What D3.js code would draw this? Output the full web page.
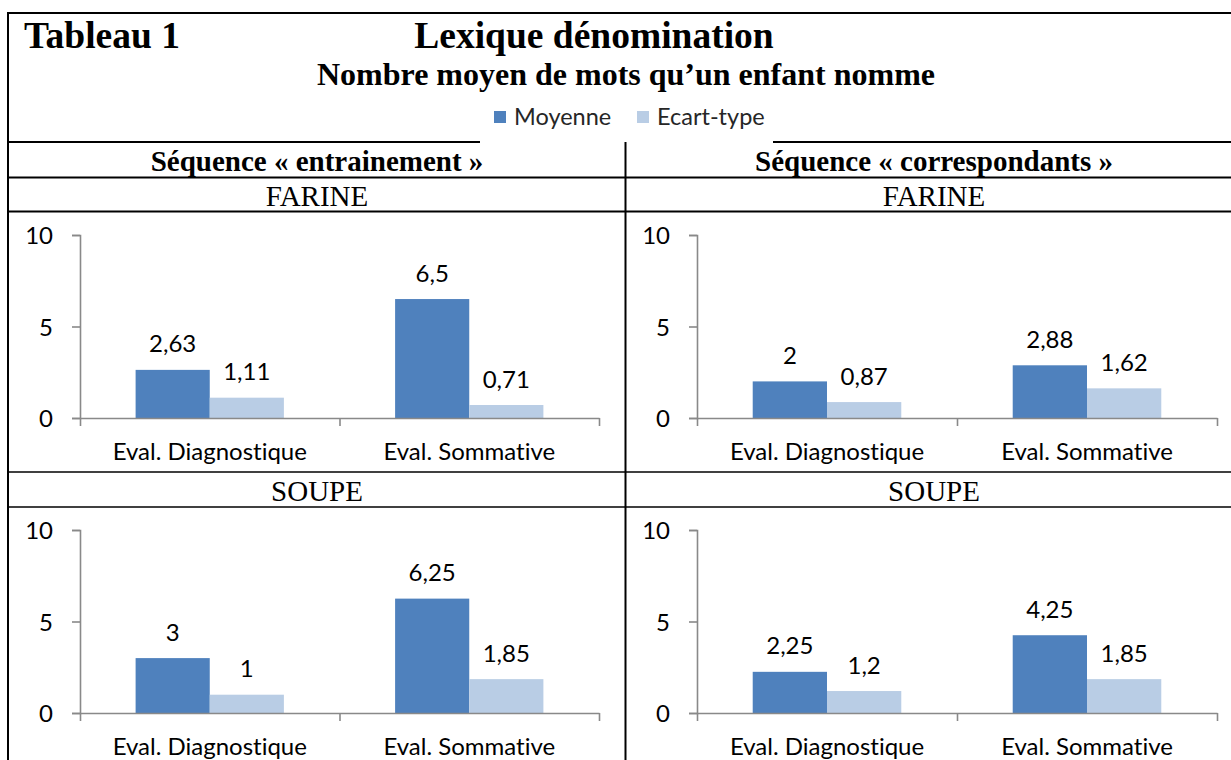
<!DOCTYPE html>
<html>
<head>
<meta charset="utf-8">
<script src="https://cdn.jsdelivr.net/npm/d3@7"></script>
<style>
  body { margin: 0; background: #fff; }
  svg { display: block; }
  .serif { font-family: "Liberation Serif", "Times New Roman", serif; fill: #000; }
  .sans { font-family: Lato, "Open Sans", sans-serif; fill: #000; font-variant-ligatures: none; }
  .axis path, .axis line { stroke: #898989; stroke-width: 1.6; }
</style>
</head>
<body>
<div id="chart"></div>
<script>
// data
var categories = ["Eval. Diagnostique", "Eval. Sommative"];
var seriesNames = ["Moyenne", "Ecart-type"];
var seriesColors = ["#4f81bd", "#b9cde5"];
var yTicks = [0, 5, 10];

var entrainementFarineMoy = [2.63, 6.5];
var entrainementFarineEcart = [1.11, 0.71];
var correspondantsFarineMoy = [2, 2.88];
var correspondantsFarineEcart = [0.87, 1.62];
var entrainementSoupeMoy = [3, 6.25];
var entrainementSoupeEcart = [1, 1.85];
var correspondantsSoupeMoy = [2.25, 4.25];
var correspondantsSoupeEcart = [1.2, 1.85];

var svgWidth = 1231;
var svgHeight = 760;

var svg = d3.select("#chart")
  .append("svg")
  .attr("width", svgWidth)
  .attr("height", svgHeight);

// table frame
var grid = svg.append("g").attr("stroke", "#000").attr("fill", "none");
grid.append("line").attr("x1", 7).attr("x2", svgWidth).attr("y1", 13).attr("y2", 13).attr("stroke-width", 2.2);
grid.append("line").attr("x1", 8).attr("x2", 8).attr("y1", 12).attr("y2", svgHeight).attr("stroke-width", 2);
grid.append("line").attr("x1", 8).attr("x2", 480).attr("y1", 142).attr("y2", 142).attr("stroke-width", 2);
grid.append("line").attr("x1", 773).attr("x2", svgWidth).attr("y1", 142).attr("y2", 142).attr("stroke-width", 2);
grid.append("line").attr("x1", 625.5).attr("x2", 625.5).attr("y1", 142).attr("y2", svgHeight).attr("stroke-width", 2);
grid.append("line").attr("x1", 8).attr("x2", svgWidth).attr("y1", 177.5).attr("y2", 177.5).attr("stroke-width", 2);
grid.append("line").attr("x1", 8).attr("x2", svgWidth).attr("y1", 211.5).attr("y2", 211.5).attr("stroke-width", 2);
grid.append("line").attr("x1", 8).attr("x2", svgWidth).attr("y1", 472).attr("y2", 472).attr("stroke-width", 1.6);
grid.append("line").attr("x1", 8).attr("x2", svgWidth).attr("y1", 507).attr("y2", 507).attr("stroke-width", 1.6);

// titles
svg.append("text").attr("class", "serif")
  .attr("x", 24).attr("y", 48)
  .style("font-size", "37.5px").style("font-weight", "bold")
  .text("Tableau 1");

svg.append("text").attr("class", "serif")
  .attr("x", 594).attr("y", 48)
  .attr("text-anchor", "middle")
  .style("font-size", "37.5px").style("font-weight", "bold")
  .text("Lexique dénomination");

svg.append("text").attr("class", "serif")
  .attr("x", 626).attr("y", 85)
  .attr("text-anchor", "middle")
  .style("font-size", "32px").style("font-weight", "bold")
  .text("Nombre moyen de mots qu’un enfant nomme");

// legend
var legendX = [494, 637];
var legend = svg.selectAll(".legend")
  .data(seriesNames)
  .enter()
  .append("g")
  .attr("class", "legend")
  .attr("transform", (d, i) => `translate(${legendX[i]}, 111)`);

legend.append("rect")
  .attr("width", 12).attr("height", 12)
  .attr("fill", (d, i) => seriesColors[i]);

legend.append("text").attr("class", "sans")
  .attr("x", 20).attr("y", 14)
  .style("font-size", "23.5px")
  .style("fill", "#262626")
  .text(d => d);

// column and row headers
var colCenters = [317, 934];
var colTitles = ["Séquence « entrainement »", "Séquence « correspondants »"];
svg.selectAll(".colTitle")
  .data(colTitles)
  .enter()
  .append("text").attr("class", "serif colTitle")
  .attr("x", (d, i) => colCenters[i]).attr("y", 171)
  .attr("text-anchor", "middle")
  .style("font-size", "29px").style("font-weight", "bold")
  .text(d => d);

var rowTitles = [{ t: "FARINE", y: 206 }, { t: "SOUPE", y: 501 }];
rowTitles.forEach(function(r) {
  colCenters.forEach(function(cx) {
    svg.append("text").attr("class", "serif")
      .attr("x", cx).attr("y", r.y)
      .attr("text-anchor", "middle")
      .style("font-size", "29px")
      .text(r.t);
  });
});

// one small grouped bar chart per cell
var fmt = v => String(v).replace(".", ",");

function drawPanel(left, right, bottom, top, moy, ecart) {
  var g = svg.append("g");

  var yScale = d3.scaleLinear().domain([0, 10]).range([bottom, top]);
  var xBand = d3.scaleBand().domain(categories).range([left, right]).paddingInner(0).paddingOuter(0);
  var xInner = d3.scaleBand().domain(seriesNames).range([0, xBand.bandwidth()]).paddingInner(0).paddingOuter(0.75);
  var xEdges = d3.scaleLinear().domain([0, categories.length]).range([left, right]);

  var rows = categories.map((c, i) => ({ cat: c, vals: [moy[i], ecart[i]] }));

  var groups = g.selectAll(".grp")
    .data(rows)
    .enter()
    .append("g")
    .attr("transform", d => `translate(${xBand(d.cat)}, 0)`);

  groups.selectAll("rect")
    .data(d => d.vals.map((v, i) => ({ s: seriesNames[i], v: v, i: i })))
    .enter()
    .append("rect")
    .attr("x", d => xInner(d.s))
    .attr("width", xInner.bandwidth())
    .attr("y", d => yScale(d.v))
    .attr("height", d => bottom - yScale(d.v))
    .attr("fill", d => seriesColors[d.i]);

  groups.selectAll(".val")
    .data(d => d.vals.map((v, i) => ({ s: seriesNames[i], v: v })))
    .enter()
    .append("text").attr("class", "sans val")
    .attr("x", d => xInner(d.s) + xInner.bandwidth() / 2)
    .attr("y", d => yScale(d.v) - 17.5)
    .attr("text-anchor", "middle")
    .style("font-size", "24px")
    .text(d => fmt(d.v));

  // y axis
  var yAxis = d3.axisLeft(yScale).tickValues(yTicks).tickSize(8).tickPadding(19);
  var yG = g.append("g").attr("class", "axis")
    .attr("transform", `translate(${left}, 0)`)
    .call(yAxis);
  yG.selectAll("text").attr("class", "sans").style("font-size", "24px").attr("dy", "0.36em");

  // x axis line with boundary ticks
  var xAxis = d3.axisBottom(xEdges).tickValues(d3.range(categories.length + 1)).tickSize(8).tickSizeOuter(0).tickFormat("");
  g.append("g").attr("class", "axis")
    .attr("transform", `translate(0, ${bottom})`)
    .call(xAxis);

  // category labels
  var xLabels = d3.axisBottom(xBand).tickSize(0).tickPadding(25);
  var xl = g.append("g")
    .attr("transform", `translate(0, ${bottom})`)
    .call(xLabels);
  xl.select(".domain").remove();
  xl.selectAll("text").attr("class", "sans").style("font-size", "24px");
}

drawPanel(80, 599, 418, 235, entrainementFarineMoy, entrainementFarineEcart);
drawPanel(697, 1217, 418, 235, correspondantsFarineMoy, correspondantsFarineEcart);
drawPanel(80, 599, 713, 530, entrainementSoupeMoy, entrainementSoupeEcart);
drawPanel(697, 1217, 713, 530, correspondantsSoupeMoy, correspondantsSoupeEcart);
</script>
</body>
</html>
